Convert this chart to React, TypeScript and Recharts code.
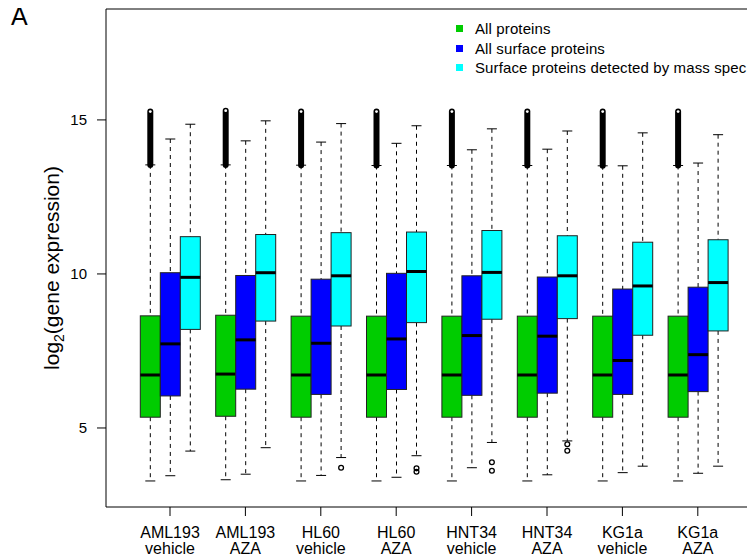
import React from 'react';
import { Bar, ComposedChart, Legend, ReferenceLine, XAxis, YAxis } from 'recharts';

const CELL_LINES = ['AML193', 'AML193', 'HL60', 'HL60', 'HNT34', 'HNT34', 'KG1a', 'KG1a'];
const TREATMENTS = ['vehicle', 'AZA', 'vehicle', 'AZA', 'vehicle', 'AZA', 'vehicle', 'AZA'];

// [lower whisker, Q1, median, Q3, upper whisker]
const ALL_PROTEINS = [
  [3.28, 5.35, 6.72, 8.64, 13.54],
  [3.32, 5.38, 6.75, 8.66, 13.54],
  [3.28, 5.35, 6.72, 8.63, 13.53],
  [3.28, 5.35, 6.72, 8.63, 13.52],
  [3.28, 5.35, 6.72, 8.63, 13.52],
  [3.28, 5.35, 6.72, 8.63, 13.52],
  [3.28, 5.35, 6.72, 8.63, 13.51],
  [3.28, 5.35, 6.72, 8.63, 13.52]
];
const ALL_SURFACE = [
  [3.45, 6.04, 7.73, 10.04, 14.38],
  [3.5, 6.26, 7.86, 9.95, 14.32],
  [3.46, 6.09, 7.75, 9.83, 14.28],
  [3.4, 6.25, 7.89, 10.02, 14.24],
  [3.71, 6.06, 8.0, 9.94, 14.03],
  [3.48, 6.13, 7.98, 9.9, 14.05],
  [3.55, 6.09, 7.19, 9.51, 13.51],
  [3.53, 6.18, 7.38, 9.57, 13.6]
];
const SURFACE_MS = [
  [4.25, 8.2, 9.89, 11.21, 14.86],
  [4.36, 8.47, 10.04, 11.28, 14.97],
  [4.04, 8.31, 9.94, 11.34, 14.88],
  [4.1, 8.42, 10.08, 11.36, 14.81],
  [4.53, 8.53, 10.05, 11.41, 14.71],
  [4.58, 8.55, 9.94, 11.24, 14.64],
  [3.76, 8.01, 9.61, 11.03, 14.58],
  [3.76, 8.15, 9.72, 11.11, 14.52]
];

// the dense run of upper outliers in "All proteins" (top of the run)
const ALL_PROTEINS_RUN_TOP = [15.27, 15.3, 15.27, 15.27, 15.27, 15.27, 15.27, 15.27];
const SURFACE_MS_OUTLIERS = [[], [], [3.71], [3.69, 3.58], [3.89, 3.61], [4.47, 4.26], [], []];

const Y_TICKS = [5, 10, 15];
const Y_DOMAIN = [2.435, 18.6];

const COLORS = { all: '#00cc00', surf: '#0000ff', ms: '#00ffff' };
const FONT = '"Liberation Sans", Arial, Helvetica, sans-serif';

const rows = CELL_LINES.map((cell, i) => ({
  name: i,
  cell,
  treat: TREATMENTS[i],
  all: { s: ALL_PROTEINS[i], out: [], run: ALL_PROTEINS_RUN_TOP[i] },
  surf: { s: ALL_SURFACE[i], out: [], run: null },
  ms: { s: SURFACE_MS[i], out: SURFACE_MS_OUTLIERS[i], run: null }
}));

const span = (b: any) => [
  Math.min(b.s[0], ...b.out),
  Math.max(b.s[4], ...b.out, b.run ?? -Infinity)
];

const boxShape = (key: string, fill: string) => (props: any) => {
  const { x, width, payload } = props;
  const b = payload[key];
  const [lo, hi] = span(b);
  const top = Math.min(props.y, props.y + props.height);
  const h = Math.abs(props.height);
  const py = (v: number) => top + ((hi - v) / (hi - lo)) * h;
  const cx = x + width / 2;
  const s = b.s;
  return (
    <g>
      <line x1={cx} x2={cx} y1={py(s[4])} y2={py(s[3])} stroke="#000" strokeDasharray="4 4" />
      <line x1={cx} x2={cx} y1={py(s[1])} y2={py(s[0])} stroke="#000" strokeDasharray="4 4" />
      <line x1={cx - 5} x2={cx + 5} y1={py(s[4])} y2={py(s[4])} stroke="#000" />
      <line x1={cx - 5} x2={cx + 5} y1={py(s[0])} y2={py(s[0])} stroke="#000" />
      {b.run != null && (
        <>
          <line x1={cx} x2={cx} y1={py(s[4])} y2={py(b.run)} stroke="#000" strokeWidth={6} strokeLinecap="round" />
          <circle cx={cx} cy={py(b.run)} r={1.4} fill="#fff" />
        </>
      )}
      <rect x={x} y={py(s[3])} width={width} height={py(s[1]) - py(s[3])} fill={fill} stroke="#222" strokeWidth={1} />
      <line x1={x} x2={x + width} y1={py(s[2])} y2={py(s[2])} stroke="#000" strokeWidth={3} />
      {b.out.map((v: number, i: number) => (
        <circle key={i} cx={cx} cy={py(v)} r={2.4} fill="none" stroke="#000" strokeWidth={1.3} />
      ))}
    </g>
  );
};

const XTick = (props: any) => {
  const { x, y, payload } = props;
  const i = payload.value;
  return (
    <text x={x} y={y} textAnchor="middle" fontSize={16} fill="#000" fontFamily={FONT}>
      <tspan x={x} dy={20}>{CELL_LINES[i]}</tspan>
      <tspan x={x} dy={16}>{TREATMENTS[i]}</tspan>
    </text>
  );
};

const YTitle = () => (
  <text transform="translate(44,260) rotate(-90)" textAnchor="middle" fontSize={21} fill="#000" fontFamily={FONT} dy={7}>
    log<tspan fontSize={14} dy={5}>2</tspan>
    <tspan dy={-5}>(gene expression)</tspan>
  </text>
);

const LegendBox = ({ payload }: any) => (
  <div style={{ fontFamily: FONT, fontSize: 15, letterSpacing: 0.12, color: '#000' }}>
    {(payload || []).map((p: any) => (
      <div key={p.value} style={{ display: 'flex', alignItems: 'center', height: 19.5, whiteSpace: 'nowrap' }}>
        <span style={{ width: 7, height: 7, background: p.color, marginRight: 12, display: 'inline-block' }} />
        {p.value}
      </div>
    ))}
  </div>
);

export default function App() {
  return (
    <div style={{ position: 'relative', width: 747, height: 552 }}>
      <div style={{ position: 'absolute', left: 3, top: -7, fontFamily: FONT, fontSize: 25, lineHeight: '30px', zIndex: 2 }}>A</div>
      <ComposedChart
        width={747}
        height={552}
        data={rows}
        margin={{ top: 1, right: 0, bottom: 0, left: 0 }}
        barGap={0}
      >
        <XAxis
          dataKey="name"
          type="category"
          height={53}
          padding={{ left: 26.3, right: 19.5 }}
          axisLine={{ stroke: '#000' }}
          tickLine={{ stroke: '#000' }}
          tickSize={9}
          tick={<XTick />}
          interval={0}
        />
        <YAxis
          type="number"
          domain={Y_DOMAIN}
          allowDataOverflow
          ticks={Y_TICKS}
          width={98}
          axisLine={{ stroke: '#000' }}
          tickLine={{ stroke: '#000' }}
          tickSize={9}
          tickMargin={10}
          tick={{ fill: '#000', fontSize: 15, fontFamily: FONT }}
          label={<YTitle />}
        />
        <ReferenceLine y={Y_DOMAIN[1]} stroke="#000" />
        <Legend
          layout="vertical"
          align="center"
          verticalAlign="middle"
          wrapperStyle={{ top: 11, left: 448, width: 300 }}
          content={<LegendBox />}
        />
        <Bar name="All proteins" dataKey={(d: any) => span(d.all)} fill={COLORS.all} barSize={20}
          shape={boxShape('all', COLORS.all)} isAnimationActive={false} />
        <Bar name="All surface proteins" dataKey={(d: any) => span(d.surf)} fill={COLORS.surf} barSize={20}
          shape={boxShape('surf', COLORS.surf)} isAnimationActive={false} />
        <Bar name="Surface proteins detected by mass spec" dataKey={(d: any) => span(d.ms)} fill={COLORS.ms} barSize={20}
          shape={boxShape('ms', COLORS.ms)} isAnimationActive={false} />
      </ComposedChart>
    </div>
  );
}
